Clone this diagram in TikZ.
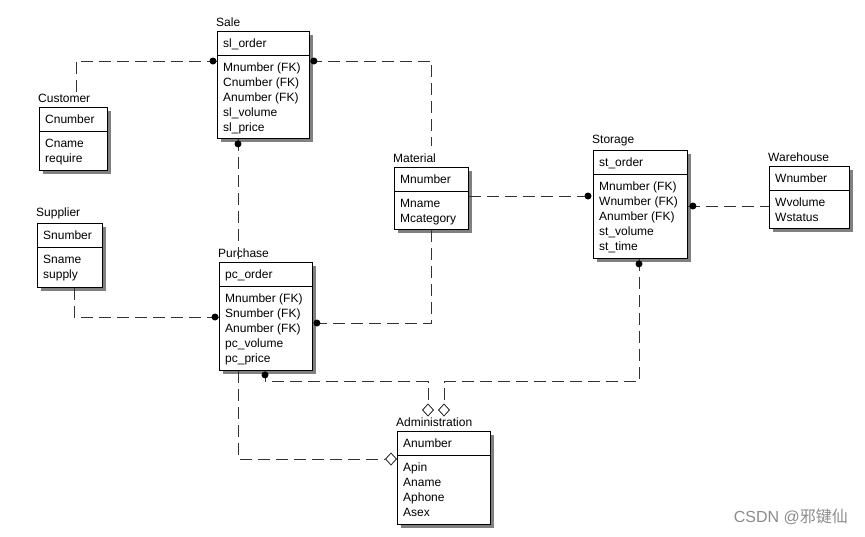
\documentclass[tikz,border=0pt]{standalone}
\usepackage{fontspec}
\setmainfont{Liberation Sans}
\newfontfamily\cjk{Noto Sans CJK SC}
\usetikzlibrary{shapes.geometric,shadows,calc}
\tikzset{
  entbox/.style={draw=black, line width=0.9pt, fill=white, rectangle, inner sep=0pt, anchor=north west,
    drop shadow={shadow xshift=4pt, shadow yshift=-4pt, fill=black!50, opacity=1}},
  enttitle/.style={anchor=south west, inner sep=0pt, yshift=4pt, xshift=-1pt, font=\fontsize{12}{14}\selectfont},
  enttext/.style={anchor=base west, inner sep=0pt, font=\fontsize{12}{14}\selectfont},
  conn/.style={draw=black!80, line width=0.8pt, dash pattern=on 12pt off 6pt},
  dotend/.style={circle, fill=black, inner sep=0pt, minimum size=7pt},
  diam/.style={diamond, draw=black!85, fill=white, line width=0.7pt, inner sep=0pt, minimum width=11pt, minimum height=12pt},
}
\newcommand\entity[8]{%
  \node[entbox, minimum width=#4pt, minimum height=#5pt] (#1) at (#2,#3) {};
  \node[enttitle] (#1-t) at (#1.north west) {#6};
  \draw[line width=0.9pt] ([yshift=-24pt]#1.north west) -- ([yshift=-24pt]#1.north east);
  \node[enttext] (#1-k) at ([xshift=6pt,yshift=-16.5pt]#1.north west) {#7};
  \foreach \a [count=\i, evaluate=\i as \yy using 40.5+15*(\i-1)] in {#8}
    \node[enttext] at ([xshift=6pt,yshift=-\yy pt]#1.north west) {\a};
}
\begin{document}
\begin{tikzpicture}[x=1pt,y=-1pt]
\useasboundingbox[fill=white] (0,0) rectangle (865,536);

\entity{sale}{217}{31}{92}{107}{Sale}{sl\_order}{Mnumber (FK),Cnumber (FK),Anumber (FK),sl\_volume,sl\_price}
\entity{customer}{39}{107}{68}{63}{Customer}{Cnumber}{Cname,require}
\entity{supplier}{37}{223}{65}{64}{Supplier}{Snumber}{Sname,supply}
\entity{purchase}{219}{262}{93}{108}{Purchase}{pc\_order}{Mnumber (FK),Snumber (FK),Anumber (FK),pc\_volume,pc\_price}
\entity{material}{394}{167}{74}{62}{Material}{Mnumber}{Mname,Mcategory}
\entity{storage}{593}{150}{94}{108}{Storage}{st\_order}{Mnumber (FK),Wnumber (FK),Anumber (FK),st\_volume,st\_time}
\entity{warehouse}{769}{166}{80}{62}{Warehouse}{Wnumber}{Wvolume,Wstatus}
\entity{admin}{397}{431}{93}{93}{Administration}{Anumber}{Apin,Aname,Aphone,Asex}

% diamonds at Administration
\node[diam] (d1) at ([xshift=31pt,yshift=21pt]admin.north west) {};
\node[diam] (d2) at ([xshift=47pt,yshift=21pt]admin.north west) {};
\node[diam] (d3) at ([xshift=-6pt,yshift=-28pt]admin.north west) {};

\coordinate (c1) at ([xshift=38pt,yshift=2pt]customer-t.north west);

% Customer -- Sale
\draw[conn] (c1) |- ([yshift=-30pt]sale.north west);
\node[dotend] at ([xshift=-4pt,yshift=-30pt]sale.north west) {};
% Sale -- Material
\draw[conn] ([yshift=-30pt]sale.north east) -| ([yshift=8pt]material-t.north -| material.north);
\node[dotend] at ([xshift=4pt,yshift=-30pt]sale.north east) {};
% Sale -- Purchase
\draw[conn] ([xshift=21pt]sale.south west) -- ([xshift=19pt]purchase.north west);
\node[dotend] at ([xshift=21pt,yshift=-5pt]sale.south west) {};
% Supplier -- Purchase
\draw[conn] ([xshift=37pt]supplier.south west) |- ([yshift=-55pt]purchase.north west);
\node[dotend] at ([xshift=-4pt,yshift=-55pt]purchase.north west) {};
% Material -- Purchase
\draw[conn] (material.south) |- ([yshift=-61pt]purchase.north east);
\node[dotend] at ([xshift=4pt,yshift=-61pt]purchase.north east) {};
% Material -- Storage
\draw[conn] ([yshift=-29pt]material.north east) -- ([yshift=-46pt]storage.north west);
\node[dotend] at ([xshift=-5pt,yshift=-46pt]storage.north west) {};
% Storage -- Warehouse
\draw[conn] ([yshift=-56pt]storage.north east) -- ([yshift=-40pt]warehouse.north west);
\node[dotend] at ([xshift=5pt,yshift=-56pt]storage.north east) {};
% Storage -- Administration
\draw[conn] ([xshift=46pt]storage.south west) |- ([yshift=22pt]d2.north) -- (d2.north);
\node[dotend] at ([xshift=46pt,yshift=-5pt]storage.south west) {};
% Purchase -- Administration
\draw[conn] ([xshift=46pt]purchase.south west) |- ([yshift=22pt]d1.north) -- (d1.north);
\node[dotend] at ([xshift=46pt,yshift=-4pt]purchase.south west) {};
% Purchase -- Administration (left)
\draw[conn] ([xshift=19pt]purchase.south west) |- (d3.west);

\node[diam] at (d1) {};
\node[diam] at (d2) {};
\node[diam] at (d3) {};

\node[anchor=east, inner sep=0pt, text=black!45, font=\fontsize{16}{18}\selectfont] (wm) at (848,517) {CSDN @{\cjk 邪键仙}};
\end{tikzpicture}
\end{document}
